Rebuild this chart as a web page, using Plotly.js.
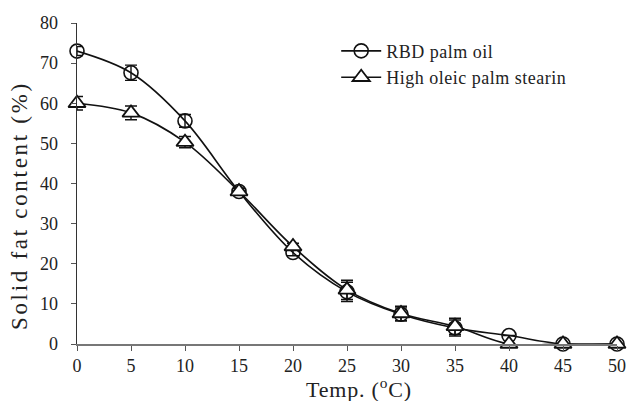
<!DOCTYPE html>
<html><head><meta charset="utf-8">
<script src="https://cdn.plot.ly/plotly-3.0.1.min.js"></script>
<style>
body{margin:0;background:#fff}
#c{width:628px;height:401px}
.legendtext{letter-spacing:0.5px}
</style>
</head><body><div id="c"></div>
<script>
const temps = [0, 5, 10, 15, 20, 25, 30, 35, 40, 45, 50];
const rbdPalmOil = [73.0, 67.6, 55.6, 38.0, 22.8, 13.0, 7.4, 4.0, 2.1, 0, 0];
const rbdErr = [1.1, 1.9, 1.6, 0.8, 0.8, 2.4, 1.6, 2.0, 0, 0, 0];
const stearin = [60.0, 57.6, 50.3, 38.0, 24.3, 13.5, 7.6, 4.4, 0, 0, 0];
const stearinErr = [1.7, 1.7, 1.4, 0.8, 0.8, 2.4, 1.8, 2.0, 0, 0, 0];
const xTicks = [0, 5, 10, 15, 20, 25, 30, 35, 40, 45, 50];
const yTicks = [0, 10, 20, 30, 40, 50, 60, 70, 80];
const xTitle = 'Temp. (<sup>o</sup>C)';
const yTitle = 'Solid fat content (%)';

const FF = 'Liberation Serif';
const traces = [
  {x: temps, y: rbdPalmOil, name: 'RBD palm oil', type: 'scatter', mode: 'lines+markers',
   line: {color: '#111', width: 1.6, shape: 'spline', smoothing: 1},
   marker: {symbol: 'circle-open', size: 14, color: '#111', line: {width: 1.6}},
   error_y: {type: 'data', array: rbdErr, visible: true, color: '#111', thickness: 1.4, width: 6},
   cliponaxis: false},
  {x: temps, y: stearin, name: 'High oleic palm stearin', type: 'scatter', mode: 'lines+markers',
   line: {color: '#111', width: 1.6, shape: 'spline', smoothing: 1},
   marker: {symbol: 'triangle-up', size: 15, color: '#fff', line: {width: 1.8, color: '#111'}},
   error_y: {type: 'data', array: stearinErr, visible: true, color: '#111', thickness: 1.4, width: 6},
   cliponaxis: false}
];
const layout = {
  width: 628, height: 401,
  margin: {l: 77, r: 11, t: 23, b: 57},
  paper_bgcolor: '#fff', plot_bgcolor: '#fff',
  font: {family: FF, color: '#222'},
  showlegend: true,
  legend: {x: 0.48, y: 0.97, xanchor: 'left', yanchor: 'top', font: {family: FF, size: 18, color: '#222'},
           bgcolor: 'rgba(0,0,0,0)', tracegroupgap: 0, itemwidth: 40},
  xaxis: {range: [0, 50], tickvals: xTicks, ticks: 'outside', ticklen: 5, tickcolor: '#555',
          showline: true, linecolor: '#777', linewidth: 1.5, showgrid: false, zeroline: false,
          tickfont: {family: FF, size: 18, color: '#222'}},
  yaxis: {range: [0, 80], tickvals: yTicks, ticks: 'outside', ticklen: 5, tickcolor: '#555',
          showline: true, linecolor: '#333', linewidth: 1.5, showgrid: false, zeroline: false,
          ticklabelstandoff: 9,
          tickfont: {family: FF, size: 18, color: '#222'}},
  annotations: [
    {text: xTitle, xref: 'paper', yref: 'paper', x: 0.522, y: -0.136, xanchor: 'center', yanchor: 'middle',
     showarrow: false, font: {family: FF, size: 22, color: '#222'}},
    {text: yTitle, xref: 'paper', yref: 'paper', x: -0.106, y: 0.43, xanchor: 'center', yanchor: 'middle',
     textangle: -90, showarrow: false, font: {family: FF, size: 23, color: '#222'}}
  ]
};
Plotly.newPlot('c', traces, layout, {displayModeBar: false, staticPlot: true}).then(function(gd){
  const anns = gd.querySelectorAll('.annotation-text');
  if (anns[0]) anns[0].style.letterSpacing = '0.8px';
  if (anns[1]) anns[1].style.letterSpacing = '2.7px';
});
</script></body></html>
